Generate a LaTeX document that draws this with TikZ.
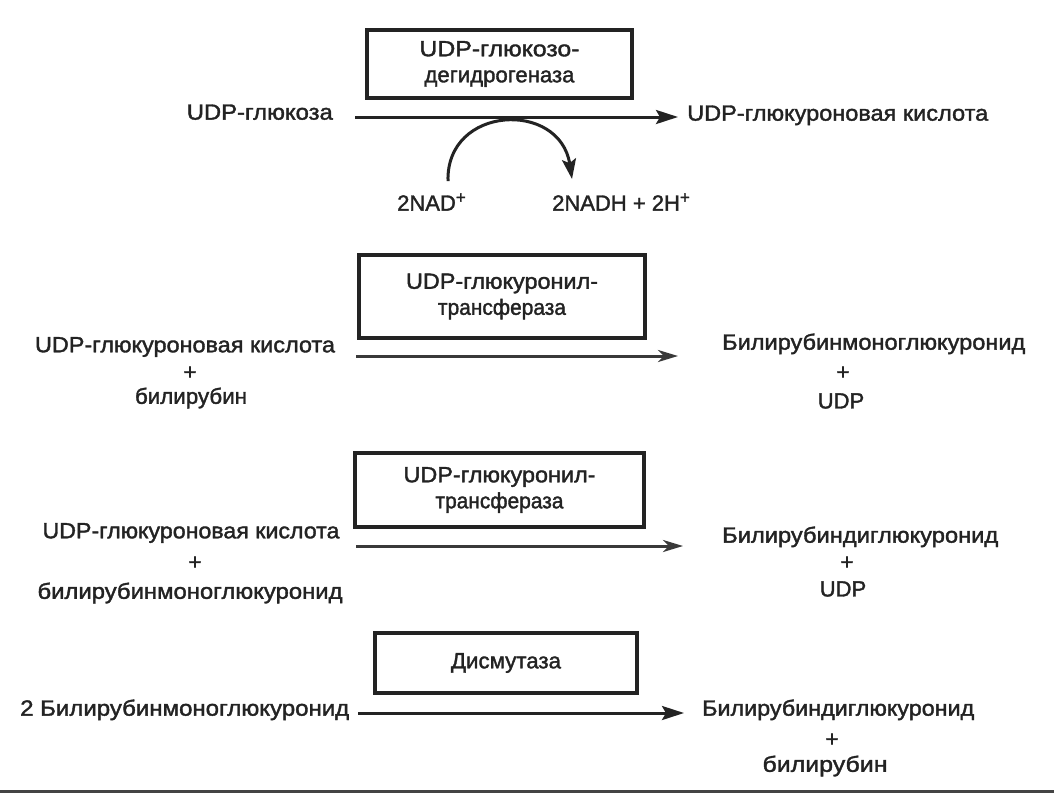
\documentclass[tikz,border=0pt]{standalone}
\usepackage{fontspec}
\setmainfont{Liberation Sans}[RawFeature={embolden=1.6}]
\usetikzlibrary{arrows.meta}
\definecolor{ink}{HTML}{232323}
\newcommand{\fitw}[2]{\resizebox{#1pt}{\height}{#2}}
\newcommand{\supplus}{\raisebox{7.5pt}{\fontsize{17}{17}\selectfont +}}
\begin{document}
\begin{tikzpicture}[x=1pt,y=-1pt,
  lbl/.style={inner sep=0pt, text=ink, font=\fontsize{22}{26}\selectfont},
  enz/.style={draw=ink, line width=3.2pt, inner sep=0pt, text=ink, align=center,
              font=\fontsize{22}{26}\selectfont},
  rx/.style={draw=ink, line width=3pt, -{Stealth[length=22pt,width=14pt,inset=4pt]}},
  rxl/.style={draw=ink!90, line width=3pt, -{Stealth[length=20pt,width=12pt,inset=6pt]}},
]
\fill[white] (0,0) rectangle (1054,793);
\useasboundingbox (0,0) rectangle (1054,793);
\draw[ink!85, line width=2.5pt] (0,791.5) -- (1054,791.5);

% Reaction 1
\node[enz, minimum width=265pt, minimum height=68pt] (e1) at (499.5,64) {\fitw{160}{UDP-глюкозо-}\\\fitw{150}{дегидрогеназа}};
\node[lbl, anchor=mid east] (glc) at (333,117) {\fitw{146}{UDP-глюкоза}};
\node[lbl, anchor=mid west] (gla) at (687,118) {\fitw{301}{UDP-глюкуроновая кислота}};
\node[lbl, anchor=mid west] (nad) at (397,208) {2NAD\supplus};
\node[lbl, anchor=mid west] (nadh) at (552,208) {2NADH + 2H\supplus};
\coordinate (a1s) at (355,117);
\coordinate (a1e) at (678,117);
\draw[rx] (a1s) -- (a1e);
\coordinate (c1s) at (448,181);
\coordinate (c1e) at (572,179);
\draw[draw=ink, line width=3pt, -{Stealth[length=20pt,width=14pt,inset=4pt]}]
  (c1s) .. controls (446,105) and (560,100) .. (c1e);

% Reaction 2
\node[enz, minimum width=286pt, minimum height=83pt] (e2) at (502,296.5) {\fitw{192}{UDP-глюкуронил-}\\\fitw{128}{трансфераза}};
\node[lbl] (r2a) at (185,347) {\fitw{300}{UDP-глюкуроновая кислота}};
\node[lbl] (r2p) at (190,373) {+};
\node[lbl] (r2b) at (191,398) {\fitw{112}{билирубин}};
\node[lbl, anchor=mid west] (r2c) at (722,347) {\fitw{303}{Билирубинмоноглюкуронид}};
\node[lbl] (r2d) at (843,373) {+};
\node[lbl] (r2e) at (841,401) {UDP};
\coordinate (a2s) at (356,356);
\coordinate (a2e) at (678,356);
\draw[rxl] (a2s) -- (a2e);

% Reaction 3
\node[enz, minimum width=289pt, minimum height=74pt] (e3) at (499.5,490) {\fitw{192}{UDP-глюкуронил-}\\\fitw{128}{трансфераза}};
\node[lbl] (r3a) at (191,533) {\fitw{297}{UDP-глюкуроновая кислота}};
\node[lbl] (r3p) at (195,563) {+};
\node[lbl] (r3b) at (190,593) {\fitw{305}{билирубинмоноглюкуронид}};
\node[lbl, anchor=mid west] (r3c) at (722,540) {\fitw{276}{Билирубиндиглюкуронид}};
\node[lbl] (r3d) at (847,563) {+};
\node[lbl] (r3e) at (843,589) {UDP};
\coordinate (a3s) at (356,546);
\coordinate (a3e) at (683,546);
\draw[rxl] (a3s) -- (a3e);

% Reaction 4
\node[enz, minimum width=262pt, minimum height=60pt] (e4) at (506,663) {\fitw{110}{Дисмутаза}};
\node[lbl, anchor=mid west] (r4a) at (20,713) {\fitw{329}{2 Билирубинмоноглюкуронид}};
\node[lbl, anchor=mid west] (r4c) at (702,713) {\fitw{272}{Билирубиндиглюкуронид}};
\node[lbl] (r4d) at (832,740) {+};
\node[lbl] (r4e) at (825,766) {\fitw{125}{билирубин}};
\coordinate (a4s) at (358,713);
\coordinate (a4e) at (684,713);
\draw[rx] (a4s) -- (a4e);
\end{tikzpicture}
\end{document}
